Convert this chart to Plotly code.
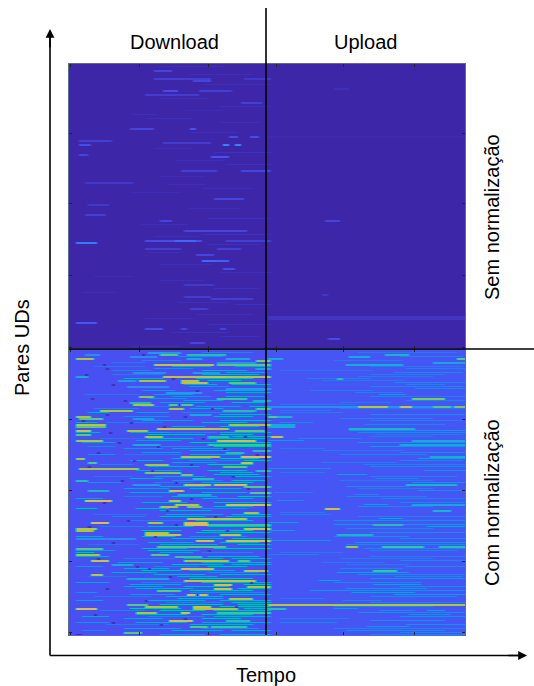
import numpy as np
import plotly.graph_objects as go

N_COLS = 132
SPLIT_ROW = 143
BASE_TOP = 0.0
BASE_BOTTOM = 0.135
BASE_UPLOAD_BOTTOM = 0.15
FINE_STRENGTH = 0.6

# (row, first time bin, last time bin, level)
DOWN_RAW = [
 (3,28,33,.10),(7,28,46,.08),(8,41,46,.10),(7,58,66,.06),(13,31,35,.12),(13,43,53,.08),(15,25,42,.07),
 (19,57,63,.08),(32,20,27,.10),(32,40,41,.14),(38,3,13,.08),(39,31,46,.07),(40,3,6,.12),(40,51,52,.30),
 (40,55,56,.30),(36,53,55,.12),(36,60,62,.12),(45,3,5,.10),(46,47,52,.14),(53,37,48,.08),(53,57,66,.10),
 (59,5,20,.06),(67,48,57,.10),(70,6,12,.06),(75,5,11,.08),(78,30,33,.10),(83,38,58,.10),(88,25,43,.12),
 (88,35,41,.20),(88,52,66,.08),(89,2,8,.25),(92,25,36,.07),(92,49,56,.08),(95,42,47,.10),(98,44,48,.20),
 (98,49,52,.18),(102,51,54,.12),(110,38,47,.06),(116,38,46,.07),(117,47,60,.08),(122,40,45,.08),
 (129,2,8,.15),(132,25,30,.12),(132,37,38,.10),(132,50,51,.10),(139,40,44,.10),
]
DOWN_RAW_FINE = [
 (25,21,28,.04),(60,33,44,.04),(1,30,50,.04),(5,40,60,.04),(10,45,66,.04),(17,30,45,.04),(21,50,66,.04),
 (23,38,50,.03),(27,26,40,.04),(29,50,62,.04),(34,40,55,.04),(42,28,40,.04),(44,48,66,.05),(48,35,50,.04),
 (50,52,66,.05),(56,30,44,.03),(62,44,60,.04),(64,20,36,.03),(72,40,56,.04),(77,46,66,.05),(80,24,38,.04),
 (85,44,66,.05),(86,28,42,.04),(90,46,62,.05),(94,26,36,.04),(100,30,46,.04),(104,50,66,.04),(106,8,20,.03),
 (108,30,44,.04),(112,48,62,.05),(114,4,14,.04),(119,36,52,.04),(120,55,66,.05),(125,42,60,.04),(127,25,40,.04),
 (130,46,66,.05),(134,34,52,.05),(136,50,62,.05),(141,20,36,.04),
]
UP_RAW = [
 (78,85,89,.10),(126,66,131,.05),(127,66,131,.05),(137,86,89,.12),(115,84,85,.06),(36,66,131,.012),(12,88,92,.03),
]
DOWN_NORM = [
 (144,26,36,.35),(145,39,51,.50),(145,30,35,.60),(145,5,9,.30),(146,20,28,.30),(147,2,7,.70),(147,39,43,.40),
 (147,52,59,.40),(148,62,66,.65),(149,49,61,.35),(150,28,47,.75),(150,49,66,.60),(152,62,66,.40),(154,21,31,.30),
 (154,41,49,.35),(156,31,51,.75),(156,51,66,.70),(156,2,5,.40),(158,23,31,.70),(158,37,42,.75),(158,16,21,.35),
 (159,37,45,.75),(159,53,61,.60),(161,19,32,.30),(162,52,66,.35),(164,32,43,.35),(166,23,27,.65),(167,49,58,.55),
 (168,61,66,.45),(169,20,26,.50),(170,21,27,.70),(170,33,40,.60),(172,33,37,.70),(172,62,66,.60),(173,10,20,.70),
 (173,51,61,.50),(175,40,46,.40),(176,2,6,.70),(177,3,10,.60),(177,21,27,.35),(180,2,11,.75),(180,53,66,.70),
 (181,2,11,.60),(182,29,46,.80),(182,47,52,.75),(183,2,6,.80),(183,19,25,.70),(183,55,64,.60),(185,2,6,.60),
 (186,25,30,.70),(186,46,52,.50),(188,2,10,.70),(188,49,61,.80),(190,46,66,.55),(190,21,29,.40),(193,61,66,.50),
 (194,52,57,.50),(196,37,49,.75),(196,57,66,.85),(197,2,4,.70),(199,57,60,.80),(199,6,8,.60),(200,25,32,.70),
 (201,51,58,.60),(202,3,22,.70),(203,62,66,.50),(204,25,36,.65),(205,37,40,.65),(207,41,47,.50),(208,2,5,.50),
 (210,21,29,.35),(210,38,46,.80),(210,48,58,.85),(211,58,66,.60),(213,6,12,.45),(213,33,37,.80),(214,60,66,.60),
 (215,36,46,.40),(218,5,13,.85),(218,33,36,.75),(220,35,42,.75),(220,52,66,.85),(221,30,35,.70),(221,39,43,.65),
 (224,58,62,.70),(227,39,58,.75),(229,7,12,.85),(229,26,30,.70),(229,38,45,.85),(230,38,45,.85),(230,45,66,.55),
 (232,2,8,.75),(232,58,66,.80),(233,2,7,.70),(234,25,32,.75),(235,25,36,.80),(235,50,56,.80),(237,2,21,.30),
 (238,42,47,.85),(238,52,66,.80),(241,29,51,.60),(242,2,10,.60),(245,2,9,.70),(245,27,32,.60),(246,35,43,.55),
 (248,7,12,.80),(248,38,52,.70),(248,56,59,.60),(250,14,20,.40),(252,37,47,.80),(253,58,65,.75),(255,7,10,.75),
 (257,19,32,.40),(258,38,61,.75),(260,48,53,.85),(261,59,66,.70),(262,48,53,.80),(263,29,36,.60),(265,39,45,.85),
 (267,53,60,.70),(270,19,25,.60),(271,25,35,.70),(271,41,46,.80),(272,2,8,.85),(272,41,55,.70),(274,22,28,.70),
 (274,37,39,.85),(274,49,66,.55),(278,33,40,.80),(278,52,59,.50),(281,40,45,.60),(281,47,58,.55),(284,18,23,.60),
]
DOWN_NORM_FINE = [
 (279,2,12,.35),(283,4,11,.30),(151,8,24,.25),(155,14,30,.26),(165,5,22,.25),(171,24,33,.28),(174,37,60,.28),
 (179,12,30,.26),(184,32,48,.30),(187,10,24,.24),(191,30,45,.32),(195,18,36,.26),(198,40,56,.30),(206,8,20,.25),
 (209,28,40,.30),(216,18,30,.28),(222,44,58,.32),(225,8,25,.24),(228,20,38,.28),(231,10,24,.28),(236,40,58,.32),
 (240,6,22,.25),(244,44,60,.30),(247,18,34,.28),(251,28,42,.30),(254,46,62,.32),(256,6,18,.25),(259,24,38,.30),
 (264,40,64,.32),(266,8,26,.25),(269,32,50,.30),(273,10,24,.30),(276,26,44,.30),(280,12,32,.26),(282,44,62,.32),
 (144,44,60,.30),(146,36,50,.35),(148,24,36,.30),(149,14,24,.28),(151,34,46,.45),(151,55,66,.45),(152,28,40,.35),
 (153,44,58,.50),(153,14,26,.30),(154,52,64,.45),(155,44,62,.50),(157,18,30,.50),(157,42,60,.55),(158,46,56,.60),
 (160,38,48,.45),(160,54,66,.55),(161,40,52,.35),(163,24,34,.35),(163,48,64,.45),(164,52,66,.50),(165,28,40,.40),
 (166,34,46,.35),(166,52,64,.50),(167,26,38,.35),(168,38,50,.45),(169,30,44,.40),(169,54,64,.55),(171,42,56,.40),
 (171,60,66,.55),(172,8,22,.30),(172,40,50,.50),(174,6,12,.50),(174,22,32,.40),(175,50,66,.50),(176,18,32,.35),
 (176,48,60,.55),(178,24,40,.40),(178,50,66,.55),(179,44,58,.50),(179,2,8,.50),(181,34,44,.50),(181,50,62,.50),
 (184,2,9,.50),(184,20,32,.45),(184,50,66,.50),(185,26,44,.55),(185,50,60,.60),(186,54,66,.60),(187,26,40,.55),
 (187,46,64,.55),(188,22,36,.40),(189,40,66,.60),(189,4,14,.40),(191,48,66,.65),(191,6,14,.30),(192,18,30,.35),
 (192,34,50,.40),(193,40,52,.40),(194,24,36,.40),(195,40,56,.50),(195,6,14,.35),(197,34,46,.50),(197,50,62,.60),
 (198,20,30,.45),(198,58,66,.60),(199,34,48,.40),(200,46,60,.65),(200,10,20,.30),(201,26,42,.50),(203,22,36,.45),
 (203,46,58,.60),(204,50,60,.50),(205,48,62,.55),(206,28,44,.40),(206,54,66,.50),(207,20,30,.45),(208,34,50,.35),
 (208,54,64,.60),(209,6,16,.35),(209,44,60,.50),(211,30,44,.45),(212,18,32,.40),(212,40,56,.50),(214,20,34,.45),
 (214,44,58,.50),(216,34,48,.50),(216,56,66,.60),(217,2,10,.40),(217,44,60,.40),(219,24,38,.50),(219,48,66,.55),
 (221,48,60,.55),(222,2,8,.60),(222,22,32,.50),(223,30,46,.50),(225,32,50,.45),(225,54,66,.55),(226,14,24,.30),
 (226,30,44,.55),(226,52,66,.50),(228,42,60,.55),(231,26,40,.50),(231,46,66,.60),(233,24,36,.60),(233,44,60,.65),
 (234,42,66,.55),(236,2,10,.45),(236,24,34,.55),(237,34,50,.50),(237,54,66,.60),(239,26,40,.50),(239,50,62,.55),
 (240,30,48,.50),(240,56,66,.55),(242,24,38,.50),(242,48,66,.60),(243,2,14,.40),(243,26,42,.50),(244,2,7,.60),
 (244,30,40,.45),(246,2,12,.45),(246,46,62,.55),(247,38,50,.50),(247,54,66,.50),(249,16,30,.40),(249,44,66,.55),
 (250,34,50,.55),(250,54,66,.50),(251,2,10,.35),(251,46,58,.60),(252,18,32,.50),(253,24,36,.55),(253,40,54,.45),
 (254,14,28,.45),(255,28,44,.50),(255,50,66,.50),(256,36,48,.50),(257,40,60,.60),(259,44,66,.55),(259,2,12,.40),
 (260,20,36,.45),(260,58,66,.65),(261,18,30,.40),(261,38,52,.55),(262,22,40,.45),(262,56,66,.55),(263,40,60,.60),
 (264,2,8,.35),(265,20,34,.35),(265,50,66,.50),(266,32,50,.45),(267,36,50,.45),(268,2,10,.40),(268,26,44,.50),
 (268,50,66,.55),(269,54,66,.60),(270,30,50,.60),(270,56,66,.60),(271,50,66,.65),(272,20,36,.65),(272,58,66,.55),
 (273,30,44,.60),(273,48,66,.60),(275,22,38,.55),(275,44,60,.60),(276,48,66,.50),(276,4,12,.45),(277,18,30,.40),
 (277,44,56,.55),(279,22,38,.45),(279,44,66,.50),(280,40,60,.50),(282,18,36,.40),(283,34,50,.50),(283,54,66,.50),
 (285,30,44,.40),(285,50,66,.45),
]
UP_NORM = [
 (145,105,112,.45),(146,93,99,.40),(147,66,70,.40),(147,129,131,.60),(149,121,131,.38),(150,92,110,.40),
 (157,89,90,.50),(167,114,124,.65),(171,66,131,.30),(171,96,105,.75),(171,110,113,.80),(171,121,126,.60),
 (171,128,131,.65),(176,66,73,.45),(176,66,68,.60),(180,66,74,.40),(181,66,74,.40),(182,93,114,.45),
 (186,67,70,.80),(188,114,131,.40),(190,110,131,.38),(196,120,131,.42),(210,112,128,.45),(220,114,131,.38),
 (222,85,89,.80),(223,121,126,.45),(230,101,110,.50),(235,89,100,.45),(241,92,95,.70),(241,104,117,.55),
 (241,123,131,.50),(253,101,108,.55),(270,66,131,.72),(272,66,71,.50),
]
UP_NORM_FINE = [
 (152,112,131,.28),(157,79,99,.28),(159,108,131,.30),(162,115,131,.30),(164,95,110,.28),(165,103,111,.35),
 (183,93,131,.35),(188,66,77,.35),(200,98,131,.28),(202,66,86,.30),(205,89,98,.38),(207,102,115,.30),
 (215,95,102,.30),(218,69,77,.30),(220,98,105,.40),(227,103,110,.40),(229,66,75,.40),(230,88,131,.35),
 (231,119,131,.42),(233,66,74,.35),(238,66,86,.32),(239,95,131,.35),(245,66,82,.28),(254,89,112,.40),
 (258,83,89,.40),(260,101,116,.40),(263,80,131,.32),(264,94,114,.40),(268,91,103,.30),(272,88,95,.35),
 (273,103,114,.30),(273,119,124,.40),(275,113,126,.32),(281,99,112,.35),(282,88,131,.28),(155,100,124,.26),
 (160,112,124,.28),(169,90,106,.26),(174,70,90,.25),(178,100,130,.28),(185,102,130,.26),(193,84,110,.26),
 (198,110,130,.30),(204,70,84,.26),(212,96,120,.27),(225,70,86,.26),(243,100,128,.28),(249,84,104,.26),
 (256,108,130,.30),(266,100,128,.30),(277,70,92,.27),(284,110,130,.30),
 (144,96,128,.25),(146,110,130,.28),(148,88,110,.25),(151,100,130,.26),(153,70,100,.24),(154,108,130,.30),
 (156,96,120,.26),(158,84,110,.26),(161,100,130,.30),(163,80,100,.25),(166,100,131,.28),(168,112,131,.30),
 (170,70,94,.24),(172,90,131,.26),(173,70,86,.25),(175,100,131,.30),(177,90,120,.28),(179,70,80,.30),
 (180,98,124,.30),(184,96,131,.32),(186,100,120,.26),(187,76,96,.28),(189,96,131,.33),(191,100,131,.35),
 (192,70,84,.26),(194,110,131,.30),(195,90,118,.28),(197,116,131,.40),(199,84,108,.26),(201,100,131,.30),
 (203,118,131,.35),(206,100,128,.28),(208,90,120,.26),(209,114,131,.35),(211,92,112,.30),(213,116,131,.32),
 (214,68,80,.25),(216,92,118,.30),(217,104,131,.28),(219,110,131,.30),(221,96,120,.30),(224,70,84,.26),
 (226,96,131,.28),(228,88,131,.32),(232,92,120,.30),(234,100,131,.32),(236,88,112,.32),(237,110,131,.32),
 (240,92,131,.30),(242,98,131,.30),(244,70,90,.25),(246,100,131,.28),(247,90,120,.26),(248,110,131,.30),
 (250,92,112,.26),(251,112,131,.32),(252,90,110,.30),(255,96,131,.30),(257,100,131,.33),(259,88,116,.30),
 (261,110,131,.32),(262,92,118,.33),(265,108,131,.36),(267,70,84,.26),(269,100,131,.30),(271,88,120,.30),
 (274,96,131,.32),(276,110,131,.33),(278,100,124,.32),(279,70,88,.30),(280,112,131,.33),(283,92,124,.32),
 (285,100,131,.30),
]
DARK_SPECKS = [
 (145,24),(150,11),(152,12),(155,5),(157,34),(160,14),(163,42),(167,7),(168,18),(170,36),(172,47),(175,12),
 (176,38),(178,4),(179,20),(181,31),(184,13),(186,58),(187,44),(189,16),(191,29),(192,51),(194,9),(195,62),
 (198,21),(200,40),(201,6),(203,27),(206,54),(208,17),(209,35),(212,59),(217,40),(219,11),(223,32),(226,48),
 (228,19),(230,35),(231,6),(233,52),(236,28),(239,14),(243,46),(247,9),(251,22),(252,26),(256,33),(259,60),
 (262,12),(265,42),(268,25),(271,55),(275,8),(277,38),(279,14),(280,30),(285,2),(285,3),
]
X_TICKS = [0, 23, 46, 68.5, 91, 114.5]
Y_TICKS_TOP = [34.5, 69.5, 105.5, 141.5]
Y_TICKS_BOTTOM = [177.5, 213, 248.5, 284]
COLUMN_LABELS = ["Download", "Upload"]
ROW_LABELS = ["Sem normalização", "Com normalização"]
PARULA = [[0, "#3e26a8"], [.14, "#4852f4"], [.28, "#2d87f7"], [.42, "#11b1d6"], [.56, "#37c897"],
          [.70, "#abc739"], [.85, "#dcbc4e"], [1, "#f0d040"]]


def paint(z, streaks, base, offset=0, fine=False):
    # each picture row holds two half-rows, so thin streaks can be one half-row tall
    for r, a, b, v in streaks:
        i = (r - offset) * 2
        level = base + FINE_STRENGTH * (v - base) if fine else v
        rows = [i] if fine else [i, i + 1]
        for row in rows:
            z[row, a:b + 1] = np.maximum(z[row, a:b + 1], level)


top = np.full((SPLIT_ROW * 2, N_COLS), BASE_TOP)
paint(top, DOWN_RAW_FINE, BASE_TOP, fine=True)
paint(top, DOWN_RAW, BASE_TOP)
paint(top, UP_RAW, BASE_TOP)
bottom = np.full(((286 - SPLIT_ROW) * 2, N_COLS), BASE_BOTTOM)
bottom[:, 66:] = BASE_UPLOAD_BOTTOM
paint(bottom, DOWN_NORM_FINE, BASE_BOTTOM, SPLIT_ROW, fine=True)
paint(bottom, DOWN_NORM, BASE_BOTTOM, SPLIT_ROW)
paint(bottom, UP_NORM_FINE, BASE_UPLOAD_BOTTOM, SPLIT_ROW, fine=True)
paint(bottom, UP_NORM, BASE_UPLOAD_BOTTOM, SPLIT_ROW)
for r, c in DARK_SPECKS:
    bottom[(r - SPLIT_ROW) * 2:(r - SPLIT_ROW) * 2 + 2, c] = 0.02

W, H = 534, 686
px = lambda v: v / W
py = lambda v: 1 - v / H

fig = go.Figure()
for z, y0, xa, ya in [(top, 0, "x", "y"), (bottom, SPLIT_ROW, "x2", "y2")]:
    fig.add_trace(go.Heatmap(z=z, x=np.arange(N_COLS), y=y0 - .25 + np.arange(z.shape[0]) / 2, xaxis=xa, yaxis=ya,
                             colorscale=PARULA, zmin=0, zmax=1, showscale=False, zsmooth="best", hoverinfo="skip"))

axis_style = dict(showgrid=False, zeroline=False, showticklabels=False, ticks="inside", ticklen=3, tickcolor="#223",
                  tickwidth=1, showline=True, linecolor="#5a6c92", linewidth=1, mirror="ticks")
fig.update_layout(
    width=W, height=H, margin=dict(l=0, r=0, t=0, b=0), paper_bgcolor="white", plot_bgcolor="white",
    font=dict(family="Liberation Sans, Arial", color="black", size=20),
    xaxis=dict(domain=[px(69), px(465)], range=[-.5, N_COLS - .5], tickvals=X_TICKS, anchor="y", **axis_style),
    yaxis=dict(domain=[py(349), py(64)], range=[SPLIT_ROW - .5, -.5], tickvals=Y_TICKS_TOP, anchor="x", **axis_style),
    xaxis2=dict(domain=[px(69), px(465)], range=[-.5, N_COLS - .5], tickvals=X_TICKS, anchor="y2", **axis_style),
    yaxis2=dict(domain=[py(635), py(349)], range=[285.5, SPLIT_ROW - .5], tickvals=Y_TICKS_BOTTOM, anchor="x2", **axis_style),
    shapes=[
        dict(type="line", xref="paper", yref="paper", x0=px(266), x1=px(266), y0=py(8), y1=py(635),
             line=dict(color="black", width=1.6)),
        dict(type="line", xref="paper", yref="paper", x0=px(69), x1=px(534), y0=py(349), y1=py(349),
             line=dict(color="black", width=1.6)),
        dict(type="line", xref="paper", yref="paper", x0=px(50), x1=px(50), y0=py(655.5), y1=py(36),
             line=dict(color="black", width=1.6)),
        dict(type="line", xref="paper", yref="paper", x0=px(50), x1=px(520), y0=py(655.5), y1=py(655.5),
             line=dict(color="black", width=1.6)),
    ],
)


def label(text, x, y, angle=0):
    fig.add_annotation(text=text, xref="paper", yref="paper", x=px(x), y=py(y), showarrow=False, textangle=angle,
                       xanchor="center", yanchor="middle", font=dict(size=20))


label(COLUMN_LABELS[0], 174, 42)
label(COLUMN_LABELS[1], 365, 42)
label(ROW_LABELS[0], 492, 217, -90)
label(ROW_LABELS[1], 492, 503, -90)
label("Pares UDs", 22, 347, -90)
label("Tempo", 266, 675)

for dx, dy, x, y in [(0, 20, 50, 29), (-20, 0, 527, 655.5)]:
    fig.add_annotation(x=px(x), y=py(y), ax=dx, ay=dy, xref="paper", yref="paper",
                       text="", showarrow=True, arrowhead=2, arrowsize=1.1, arrowwidth=1.6, arrowcolor="black")

fig.write_html("out.html", config=dict(displayModeBar=False),
               post_script="document.body.style.margin='0';")
